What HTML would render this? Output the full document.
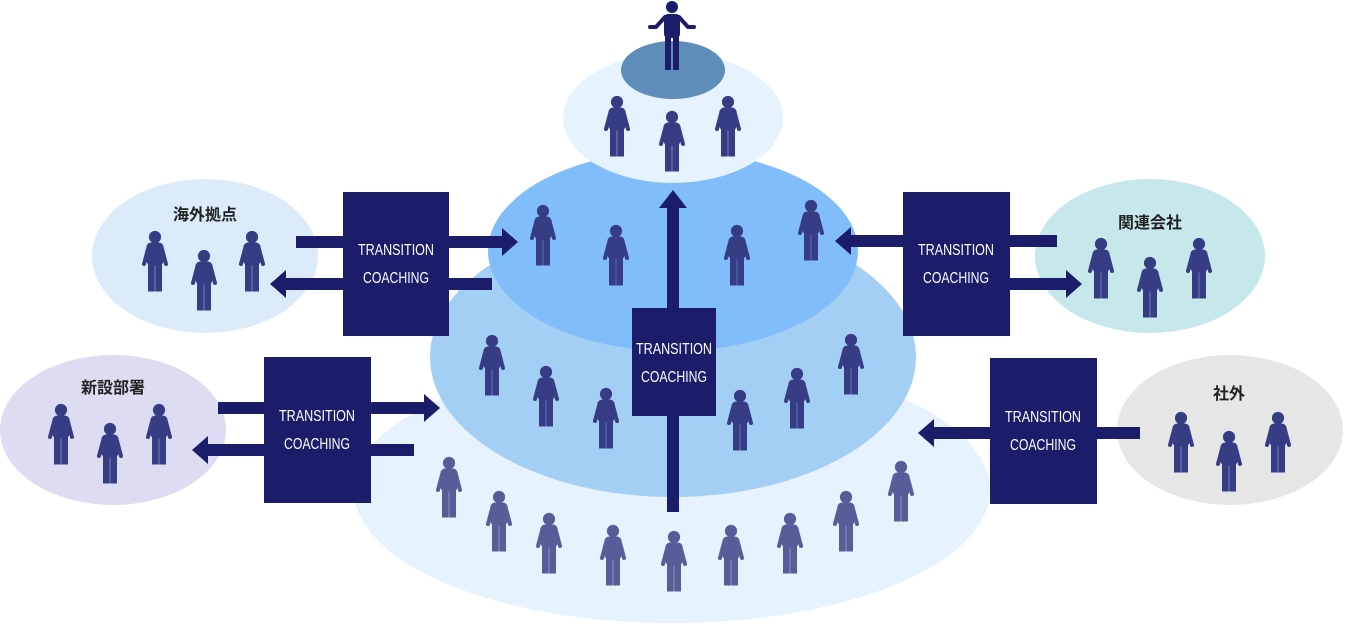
<!DOCTYPE html>
<html><head><meta charset="utf-8"><style>
html,body{margin:0;padding:0;background:#fff;}
svg{display:block;}
.t{font-family:"Liberation Sans Narrow","Liberation Sans",sans-serif;font-size:16px;fill:#fff;text-anchor:middle;}
.j{font-family:"Liberation Sans","Noto Sans CJK JP",sans-serif;font-size:16px;font-weight:bold;fill:#222;text-anchor:middle;}
</style></head><body>
<svg width="1345" height="624" viewBox="0 0 1345 624" xmlns="http://www.w3.org/2000/svg">
<defs>
<g id="p">
<circle cx="15" cy="6" r="5.6"/>
<rect x="7" y="12" width="16" height="22" rx="4"/>
<line x1="8.5" y1="16" x2="4" y2="33" stroke-width="4" stroke-linecap="round"/>
<line x1="21.5" y1="16" x2="26" y2="33" stroke-width="4" stroke-linecap="round"/>
<rect x="8.5" y="30" width="5.8" height="30"/>
<rect x="15.7" y="30" width="5.8" height="30"/>
</g>
</defs>
<!-- ellipses -->
<ellipse cx="672" cy="490" rx="318" ry="133" fill="#e6f2fd"/>
<ellipse cx="673" cy="357" rx="243" ry="140" fill="#a3cff5"/>
<ellipse cx="673" cy="251" rx="185" ry="100" fill="#80bdfa"/>
<ellipse cx="673" cy="118" rx="110" ry="65" fill="#e6f2fd"/>
<ellipse cx="673" cy="70" rx="52" ry="29" fill="#5d8db8"/>
<ellipse cx="205" cy="256" rx="113" ry="77" fill="#dcebfa"/>
<ellipse cx="113" cy="430" rx="113" ry="75" fill="#dedcf2"/>
<ellipse cx="1150" cy="256" rx="115" ry="77" fill="#c7e8ea"/>
<ellipse cx="1230" cy="430" rx="113" ry="75" fill="#e6e6e6"/>
<!-- labels -->
<text class="j" x="205" y="220">海外拠点</text>
<text class="j" x="113" y="393">新設部署</text>
<text class="j" x="1150" y="228">関連会社</text>
<text class="j" x="1229" y="399">社外</text>
<!-- top person -->
<g fill="#1b1c6a" stroke="#1b1c6a">
<circle cx="672" cy="7" r="6" stroke="none"/>
<rect x="664" y="14" width="16" height="24" rx="4" stroke="none"/>
<polyline points="665,17 656,27 650,27" fill="none" stroke-width="4" stroke-linecap="round" stroke-linejoin="round"/>
<polyline points="679,17 688,27 694,27" fill="none" stroke-width="4" stroke-linecap="round" stroke-linejoin="round"/>
<rect x="665" y="34" width="6" height="36" stroke="none"/>
<rect x="673" y="34" width="6" height="36" stroke="none"/>
</g>
<!-- people dark -->
<g fill="#363d85" stroke="#363d85">
<use href="#p" x="602" y="96"/><use href="#p" x="657" y="111"/><use href="#p" x="713" y="96"/>
<use href="#p" x="528" y="205"/><use href="#p" x="601" y="225"/><use href="#p" x="722" y="225"/><use href="#p" x="796" y="200"/>
<use href="#p" x="477" y="335"/><use href="#p" x="531" y="366"/><use href="#p" x="591" y="388"/><use href="#p" x="725" y="390"/><use href="#p" x="782" y="368"/><use href="#p" x="836" y="334"/>
<use href="#p" x="140" y="231"/><use href="#p" x="189" y="250"/><use href="#p" x="237" y="231"/>
<use href="#p" x="46" y="404"/><use href="#p" x="95" y="423"/><use href="#p" x="144" y="404"/>
<use href="#p" x="1086" y="238"/><use href="#p" x="1135" y="257"/><use href="#p" x="1184" y="238"/>
<use href="#p" x="1166" y="412"/><use href="#p" x="1214" y="431"/><use href="#p" x="1263" y="412"/>
</g>
<g fill="#565d98" stroke="#565d98">
<use href="#p" x="434" y="457"/><use href="#p" x="484" y="491"/><use href="#p" x="534" y="513"/><use href="#p" x="598" y="525"/><use href="#p" x="659" y="531"/><use href="#p" x="716" y="525"/><use href="#p" x="775" y="513"/><use href="#p" x="831" y="491"/><use href="#p" x="886" y="461"/>
</g>
<!-- arrows -->
<g fill="#1b1c6a">
<rect x="296" y="236" width="208" height="12"/><polygon points="502,228 518,242 502,256"/>
<rect x="284" y="278" width="208" height="12"/><polygon points="286,270 270,284 286,298"/>
<rect x="218" y="402" width="208" height="12"/><polygon points="424,394 440,408 424,422"/>
<rect x="206" y="444" width="208" height="12"/><polygon points="208,436 192,450 208,464"/>
<rect x="849" y="235" width="208" height="12"/><polygon points="851,227 835,241 851,255"/>
<rect x="903" y="278" width="165" height="12"/><polygon points="1066,270 1082,284 1066,298"/>
<rect x="932" y="427" width="208" height="12"/><polygon points="934,419 918,433 934,447"/>
<rect x="667" y="206" width="12" height="306"/><polygon points="659,208 673,190 687,208"/>
<rect x="343" y="192" width="106" height="144"/>
<rect x="264" y="357" width="107" height="146"/>
<rect x="903" y="192" width="107" height="144"/>
<rect x="990" y="358" width="107" height="146"/>
<rect x="632" y="308" width="84" height="108"/>
</g>
<g class="t">
<text x="396" y="255" textLength="76" lengthAdjust="spacingAndGlyphs">TRANSITION</text>
<text x="396" y="283" textLength="66" lengthAdjust="spacingAndGlyphs">COACHING</text>
<text x="317" y="421" textLength="76" lengthAdjust="spacingAndGlyphs">TRANSITION</text>
<text x="317" y="449" textLength="66" lengthAdjust="spacingAndGlyphs">COACHING</text>
<text x="956" y="255" textLength="76" lengthAdjust="spacingAndGlyphs">TRANSITION</text>
<text x="956" y="283" textLength="66" lengthAdjust="spacingAndGlyphs">COACHING</text>
<text x="1043" y="422" textLength="76" lengthAdjust="spacingAndGlyphs">TRANSITION</text>
<text x="1043" y="450" textLength="66" lengthAdjust="spacingAndGlyphs">COACHING</text>
<text x="674" y="354" textLength="76" lengthAdjust="spacingAndGlyphs">TRANSITION</text>
<text x="674" y="382" textLength="66" lengthAdjust="spacingAndGlyphs">COACHING</text>
</g>
</svg>
</body></html>
